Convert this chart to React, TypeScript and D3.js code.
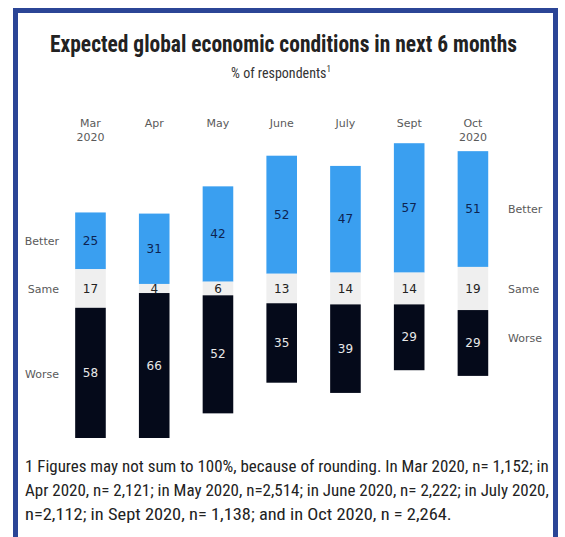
import React, { useLayoutEffect, useRef, useState } from "react";
import * as d3 from "d3";

const months = ["Mar|2020", "Apr", "May", "June", "July", "Sept", "Oct|2020"];
const better = [25, 31, 42, 52, 47, 57, 51];
const same = [17, 4, 6, 13, 14, 14, 19];
const worse = [58, 66, 52, 35, 39, 29, 29];
const categoryLabels = ["Better", "Same", "Worse"];
const title = "Expected global economic conditions in next 6 months";
const subtitle = "% of respondents";
const footnote = [
  "1 Figures may not sum to 100%, because of rounding. In Mar 2020, n= 1,152; in",
  "Apr 2020, n= 2,121; in May 2020, n=2,514; in June 2020, n= 2,222; in July 2020,",
  "n=2,112;  in Sept 2020, n= 1,138; and in Oct 2020, n = 2,264.",
];

const W = 565;
const H = 537;
const BLUE = "#3a9ff0";
const GRAY = "#efefef";
const NAVY = "#050a1a";
const FRAME = "#2b4596";
const sans = "'DejaVu Sans', Verdana, sans-serif";
const narrow = "'Liberation Sans Narrow', 'Roboto Condensed', 'Liberation Sans', Arial, sans-serif";

function FitText(props: {
  x: number;
  y: number;
  width: number;
  anchor: "start" | "middle";
  children: React.ReactNode;
  [k: string]: any;
}) {
  const { x, y, width, anchor, children, ...rest } = props;
  const ref = useRef<SVGTextElement | null>(null);
  const [sx, setSx] = useState(1);
  useLayoutEffect(() => {
    if (ref.current) {
      const len = ref.current.getComputedTextLength();
      if (len > 0) setSx(width / len);
    }
  }, [width]);
  return (
    <g transform={`translate(${x},${y}) scale(${sx},1)`}>
      <text ref={ref} x={0} y={0} textAnchor={anchor} {...rest}>
        {children}
      </text>
    </g>
  );
}

export default function App() {
  const x = d3
    .scaleBand<string>()
    .domain(months)
    .range([58.6, 504.8])
    .paddingInner(0.52)
    .paddingOuter(0.26);
  const center = 288.5;
  const k = 2.27;
  const y = d3
    .scaleLinear()
    .domain([-80, 80])
    .range([center - 80 * k, center + 80 * k]);

  const rows = months.map((m, i) => {
    const s2 = same[i] / 2;
    return {
      m,
      bTop: y(-(s2 + better[i])),
      bBot: y(-s2),
      sBot: y(s2),
      wBot: y(s2 + worse[i]),
      b: better[i],
      s: same[i],
      w: worse[i],
    };
  });

  const first = rows[0];
  const last = rows[rows.length - 1];
  const leftY = [(first.bTop + first.bBot) / 2, (first.bBot + first.sBot) / 2, (first.sBot + first.wBot) / 2];
  const rightY = [(last.bTop + last.bBot) / 2, (last.bBot + last.sBot) / 2, (last.sBot + last.wBot) / 2 - 5];

  return (
    <svg
      width={W}
      height={H}
      style={{ position: "absolute", left: 0, top: 0, background: "#fff" }}
    >
      <defs>
        <clipPath id="plotClip">
          <rect x={0} y={0} width={W} height={438} />
        </clipPath>
      </defs>
      <rect x={0} y={0} width={W} height={H} fill="#fff" />
      <rect x={15.5} y={10.5} width={540} height={620} fill="none" stroke={FRAME} strokeWidth={5} />

      <FitText
        x={283.5}
        y={52}
        width={467}
        anchor="middle"
        fontFamily={narrow}
        fontWeight="bold"
        fontSize={24}
        fill="#222"
      >
        {title}
      </FitText>
      <text x={281} y={78} textAnchor="middle" fontFamily={narrow} fontSize={14} fill="#333">
        {subtitle}
        <tspan fontSize={9} dy={-6}>1</tspan>
      </text>

      {rows.map((r) => {
        const cx = (x(r.m) as number) + x.bandwidth() / 2;
        const lines = r.m.split("|");
        return (
          <g key={r.m}>
            {lines.map((l, j) => (
              <text
                key={j}
                x={cx}
                y={127 + j * 14}
                textAnchor="middle"
                fontFamily={sans}
                fontSize={11}
                fill="#5a5a5a"
              >
                {l}
              </text>
            ))}
          </g>
        );
      })}

      <g clipPath="url(#plotClip)">
        {rows.map((r) => {
          const x0 = x(r.m) as number;
          const bw = x.bandwidth();
          return (
            <g key={r.m}>
              <rect x={x0} y={r.bTop} width={bw} height={r.bBot - r.bTop} fill={BLUE} />
              <rect x={x0} y={r.bBot} width={bw} height={r.sBot - r.bBot} fill={GRAY} />
              <rect x={x0} y={r.sBot} width={bw} height={r.wBot - r.sBot} fill={NAVY} />
            </g>
          );
        })}
      </g>

      {rows.map((r) => {
        const cx = (x(r.m) as number) + x.bandwidth() / 2;
        return (
          <g key={r.m} fontFamily={sans} fontSize={12} textAnchor="middle">
            <text x={cx} y={(r.bTop + r.bBot) / 2 + 4} fill="#0d2350">
              {r.b}
            </text>
            <text x={cx} y={(r.bBot + r.sBot) / 2 + 4.5} fill="#222">
              {r.s}
            </text>
            <text x={cx} y={(r.sBot + Math.min(r.wBot, 438)) / 2 + 4} fill="#e8e8e8">
              {r.w}
            </text>
          </g>
        );
      })}

      {categoryLabels.map((c, i) => (
        <text key={"l" + c} x={59} y={leftY[i] + 4} textAnchor="end" fontFamily={sans} fontSize={11} fill="#5a5a5a">
          {c}
        </text>
      ))}
      {categoryLabels.map((c, i) => (
        <text key={"r" + c} x={508} y={rightY[i] + 4} textAnchor="start" fontFamily={sans} fontSize={11} fill="#5a5a5a">
          {c}
        </text>
      ))}

      {footnote.map((line, i) => (
        <FitText
          key={i}
          x={25}
          y={472 + i * 24}
          width={i < 2 ? 524 : 427}
          anchor="start"
          fontFamily={narrow}
          fontSize={16}
          fill="#222"
        >
          {line}
        </FitText>
      ))}
    </svg>
  );
}
